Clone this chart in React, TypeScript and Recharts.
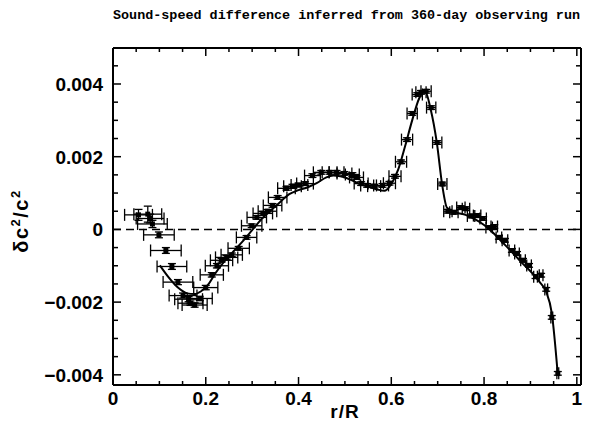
import React from 'react';
import { ComposedChart, Scatter, Line, XAxis, YAxis, ErrorBar, ReferenceLine } from 'recharts';

const pointR = [0.055,0.075,0.080,0.085,0.099,0.114,0.127,0.140,0.151,0.163,0.167,0.176,0.187,0.200,0.213,0.224,0.234,0.245,0.256,0.271,0.288,0.299,0.310,0.323,0.333,0.344,0.355,0.374,0.387,0.402,0.414,0.430,0.449,0.467,0.482,0.499,0.516,0.525,0.535,0.548,0.563,0.581,0.596,0.608,0.621,0.634,0.645,0.656,0.664,0.675,0.686,0.699,0.710,0.722,0.735,0.750,0.761,0.772,0.785,0.798,0.811,0.822,0.832,0.845,0.860,0.871,0.884,0.897,0.911,0.923,0.934,0.946,0.959];
const pointDc = [0.00040,0.00042,0.00030,0.00015,-0.00015,-0.00058,-0.00102,-0.00145,-0.00182,-0.00192,-0.00203,-0.00208,-0.00190,-0.00160,-0.00125,-0.00100,-0.00085,-0.00077,-0.00070,-0.00052,-0.00022,0.00010,0.00033,0.00044,0.00050,0.00066,0.00088,0.00113,0.00119,0.00122,0.00126,0.00148,0.00157,0.00157,0.00157,0.00154,0.00151,0.00143,0.00126,0.00121,0.00119,0.00121,0.00127,0.00146,0.00186,0.00247,0.00319,0.00371,0.00377,0.00380,0.00335,0.00239,0.00125,0.00050,0.00047,0.00060,0.00057,0.00037,0.00038,0.00030,0.00005,0.00008,-0.00022,-0.00030,-0.00058,-0.00066,-0.00085,-0.00099,-0.00130,-0.00126,-0.00165,-0.00242,-0.00396];
const pointErrR = [0.030,0.030,0.030,0.032,0.033,0.033,0.032,0.032,0.030,0.030,0.027,0.027,0.027,0.026,0.025,0.025,0.024,0.024,0.023,0.023,0.022,0.022,0.021,0.021,0.020,0.020,0.020,0.019,0.019,0.018,0.018,0.017,0.017,0.016,0.016,0.016,0.015,0.015,0.015,0.014,0.014,0.013,0.013,0.013,0.012,0.012,0.011,0.011,0.011,0.011,0.010,0.010,0.010,0.009,0.009,0.009,0.008,0.008,0.008,0.007,0.007,0.007,0.006,0.006,0.006,0.005,0.005,0.005,0.004,0.004,0.003,0.002,0.002];
const pointErrDc = [0.00015,0.00022,0.00012,0.00010,0.00008,0.00008,0.00008,0.00007,0.00007,0.00007,0.00006,0.00006,0.00006,0.00006,0.00006,0.00006,0.00005,0.00005,0.00005,0.00005,0.00005,0.00005,0.00005,0.00005,0.00005,0.00005,0.00005,0.00005,0.00005,0.00005,0.00005,0.00005,0.00005,0.00005,0.00005,0.00005,0.00005,0.00005,0.00005,0.00005,0.00005,0.00005,0.00005,0.00005,0.00005,0.00005,0.00005,0.00005,0.00005,0.00005,0.00005,0.00005,0.00005,0.00005,0.00005,0.00005,0.00005,0.00005,0.00005,0.00005,0.00005,0.00005,0.00005,0.00005,0.00005,0.00005,0.00005,0.00005,0.00005,0.00005,0.00005,0.00005,0.00005];

const curveR = [0.101,0.12,0.14,0.16,0.175,0.19,0.205,0.22,0.24,0.26,0.28,0.30,0.32,0.34,0.36,0.38,0.40,0.42,0.44,0.46,0.475,0.49,0.51,0.53,0.55,0.57,0.585,0.60,0.615,0.63,0.645,0.66,0.672,0.685,0.698,0.71,0.72,0.74,0.76,0.78,0.80,0.82,0.84,0.86,0.88,0.90,0.92,0.934,0.946,0.959];
const curveDc = [-0.00099,-0.00132,-0.00160,-0.00176,-0.00178,-0.00170,-0.00152,-0.00122,-0.00088,-0.00060,-0.00032,-0.00002,0.00028,0.00052,0.00075,0.00097,0.00108,0.00116,0.00128,0.00143,0.00148,0.00146,0.00138,0.00126,0.00118,0.00110,0.00106,0.00125,0.00165,0.00230,0.00300,0.00360,0.00382,0.00330,0.00240,0.00120,0.00060,0.00046,0.00040,0.00028,0.00012,-0.00010,-0.00036,-0.00062,-0.00090,-0.00115,-0.00145,-0.00172,-0.00230,-0.00400];

const xTicks = [0,0.05,0.1,0.15,0.2,0.25,0.3,0.35,0.4,0.45,0.5,0.55,0.6,0.65,0.7,0.75,0.8,0.85,0.9,0.95,1];
const xMajor = [0,0.2,0.4,0.6,0.8,1];
const xLabels = ['0','0.2','0.4','0.6','0.8','1'];
const yTicks = [-0.004,-0.0035,-0.003,-0.0025,-0.002,-0.0015,-0.001,-0.0005,0,0.0005,0.001,0.0015,0.002,0.0025,0.003,0.0035,0.004,0.0045];
const yMajor = [-0.004,-0.002,0,0.002,0.004];
const yLabels = ['\u22120.004','\u22120.002','0','0.002','0.004'];

const points = pointR.map((r, i) => ({ r, dc: pointDc[i], er: pointErrR[i], ed: pointErrDc[i] }));
const curve = curveR.map((r, i) => ({ r, dc: curveDc[i] }));

const FONT = '"Liberation Sans", Arial, sans-serif';
const majorIdx = (v: number, arr: number[]) => arr.findIndex((m) => Math.abs(m - v) < 1e-9);

const xTick = (side: 'bottom' | 'top', labels: boolean) => (p: any) => {
  const { x, y, payload } = p;
  const idx = majorIdx(payload.value, xMajor);
  const len = idx >= 0 ? 8 : 4;
  const dir = side === 'bottom' ? -1 : 1;
  return (
    <g>
      <line x1={x} x2={x} y1={y} y2={y + dir * len} stroke="#000" strokeWidth={1.5} />
      {labels && idx >= 0 && (
        <text x={x} y={y + 20} textAnchor="middle" fontFamily={FONT} fontWeight="bold" fontSize={19} fill="#000">{xLabels[idx]}</text>
      )}
    </g>
  );
};

const yTick = (side: 'left' | 'right', labels: boolean) => (p: any) => {
  const { x, y, payload } = p;
  const idx = majorIdx(payload.value, yMajor);
  const len = idx >= 0 ? 8 : 5;
  const dir = side === 'left' ? 1 : -1;
  return (
    <g>
      <line x1={x} x2={x + dir * len} y1={y} y2={y} stroke="#000" strokeWidth={1.5} />
      {labels && idx >= 0 && (
        <text x={x - 10} y={y + 7} textAnchor="end" fontFamily={FONT} fontWeight="bold" fontSize={19} fill="#000">{yLabels[idx]}</text>
      )}
    </g>
  );
};

const Square = (p: any) => {
  const { cx, cy } = p;
  if (cx == null || cy == null) return <g />;
  return <rect x={cx - 2.5} y={cy - 2.5} width={5} height={5} fill="#000" />;
};

export default function App() {
  const xDomain: [number, number] = [0, 1.009];
  const yDomain: [number, number] = [-0.00428, 0.00499];
  return (
    <div style={{ position: 'fixed', left: 0, top: 0, width: 595, height: 428, background: '#fff' }}>
      <ComposedChart width={595} height={428} margin={{ top: 47, right: 13, bottom: 42, left: 112 }}>
        <XAxis xAxisId="b" dataKey="r" type="number" domain={xDomain} ticks={xTicks} interval={0} allowDataOverflow
          orientation="bottom" height={1} tickSize={0} tickMargin={0} tickLine={false}
          axisLine={{ stroke: '#000', strokeWidth: 2 }} tick={xTick('bottom', true)} />
        <XAxis xAxisId="t" dataKey="r" type="number" domain={xDomain} ticks={xTicks} interval={0} allowDataOverflow
          orientation="top" height={1} tickSize={0} tickMargin={0} tickLine={false}
          axisLine={{ stroke: '#000', strokeWidth: 2 }} tick={xTick('top', false)} />
        <YAxis yAxisId="l" dataKey="dc" type="number" domain={yDomain} ticks={yTicks} interval={0} allowDataOverflow
          orientation="left" width={1} tickSize={0} tickMargin={0} tickLine={false}
          axisLine={{ stroke: '#000', strokeWidth: 2 }} tick={yTick('left', true)} />
        <YAxis yAxisId="r" dataKey="dc" type="number" domain={yDomain} ticks={yTicks} interval={0} allowDataOverflow
          orientation="right" width={1} tickSize={0} tickMargin={0} tickLine={false}
          axisLine={{ stroke: '#000', strokeWidth: 2 }} tick={yTick('right', false)} />
        <ReferenceLine xAxisId="b" yAxisId="l" y={0} stroke="#000" strokeWidth={1.5} strokeDasharray="8 5" />
        <Line xAxisId="b" yAxisId="l" data={curve} dataKey="dc" type="monotone" stroke="#000" strokeWidth={2} dot={false} isAnimationActive={false} />
        <Scatter xAxisId="b" yAxisId="l" data={points} dataKey="dc" shape={Square} isAnimationActive={false}>
          <ErrorBar dataKey="er" direction="x" width={6} stroke="#000" strokeWidth={1.3} />
          <ErrorBar dataKey="ed" direction="y" width={4} stroke="#000" strokeWidth={1.3} />
        </Scatter>
      </ComposedChart>
      <div style={{ position: 'absolute', left: 0, top: 0, width: 595, height: 428, pointerEvents: 'none' }}>
        <svg width={595} height={428}>
          <text x={113} y={19} textLength={467} lengthAdjust="spacingAndGlyphs" fontFamily='"Liberation Mono", monospace' fontWeight="bold" fontSize={13.5} fill="#000">Sound-speed difference inferred from 360-day observing run</text>
          <text x={345} y={418} textAnchor="middle" fontFamily={FONT} fontWeight="bold" fontSize={19} letterSpacing={1} fill="#000">r/R</text>
          <text x={0} y={0} transform="translate(28,221) rotate(-90)" textAnchor="middle" fontFamily={FONT} fontWeight="bold" fontSize={20} letterSpacing={1.5} fill="#000">
            <tspan>{'\u03B4c'}</tspan>
            <tspan fontSize={13} dy={-8}>2</tspan>
            <tspan dy={8}>/c</tspan>
            <tspan fontSize={13} dy={-8}>2</tspan>
          </text>
        </svg>
      </div>
    </div>
  );
}
